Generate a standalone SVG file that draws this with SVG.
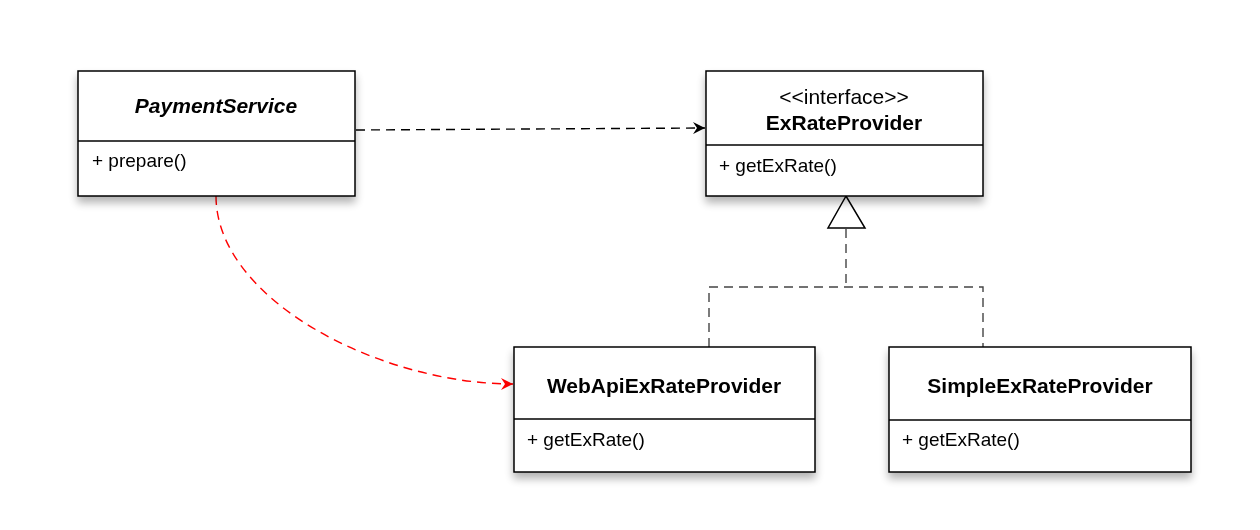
<svg xmlns="http://www.w3.org/2000/svg" width="1260" height="530" viewBox="0 0 1260 530">
<style>
.box{fill:#fff;stroke:#000;stroke-width:1.5}
.div{stroke:#000;stroke-width:1.5}
.t{font-family:"Liberation Sans",Arial,sans-serif;font-size:21px;font-weight:bold;fill:#000;text-anchor:middle}
.m{font-family:"Liberation Sans",Arial,sans-serif;font-size:19px;fill:#000}
.s{font-family:"Liberation Sans",Arial,sans-serif;font-size:21px;fill:#000;text-anchor:middle}
</style>
<defs>
<filter id="sh" x="-10%" y="-10%" width="120%" height="140%">
<feGaussianBlur in="SourceAlpha" stdDeviation="4"/>
<feOffset dx="0" dy="6"/>
<feComponentTransfer><feFuncA type="linear" slope="0.3"/></feComponentTransfer>
<feMerge><feMergeNode/><feMergeNode in="SourceGraphic"/></feMerge>
</filter>
<marker id="ab" markerWidth="14" markerHeight="12" refX="12" refY="6" orient="auto" markerUnits="userSpaceOnUse">
<path d="M0,0 L12,6 L0,12 L4,6 Z" fill="#000"/>
</marker>
<marker id="ar" markerWidth="14" markerHeight="12" refX="12" refY="6" orient="auto" markerUnits="userSpaceOnUse">
<path d="M0,0 L12,6 L0,12 L4,6 Z" fill="#f00"/>
</marker>
</defs>
<rect width="1260" height="530" fill="#fff"/>
<g id="connectors" fill="none">
<path d="M356,130 L705,128" stroke="#000" stroke-width="1.4" stroke-dasharray="9,6" marker-end="url(#ab)"/>
<path d="M216,196 C216,300 380,384 513,384" stroke="#f00" stroke-width="1.4" stroke-dasharray="9,6" marker-end="url(#ar)"/>
<path d="M846,229 L846,287 M709,347 L709,287 L983,287 L983,347" stroke="#444" stroke-width="1.4" stroke-dasharray="9,6"/>
<path d="M846,196 L828,228 L865,228 Z" fill="#fff" stroke="#000" stroke-width="1.5"/>
</g>
<g id="PaymentService" filter="url(#sh)">
<rect class="box" x="78" y="71" width="277" height="125"/>
<line class="div" x1="78" y1="141" x2="355" y2="141"/>
<text class="t" x="216" y="113" font-style="italic">PaymentService</text>
<text class="m" x="92" y="167">+ prepare()</text>
</g>
<g id="ExRateProvider" filter="url(#sh)">
<rect class="box" x="706" y="71" width="277" height="125"/>
<line class="div" x1="706" y1="145" x2="983" y2="145"/>
<text class="s" x="844" y="104">&lt;&lt;interface&gt;&gt;</text>
<text class="t" x="844" y="130">ExRateProvider</text>
<text class="m" x="719" y="172">+ getExRate()</text>
</g>
<g id="WebApiExRateProvider" filter="url(#sh)">
<rect class="box" x="514" y="347" width="301" height="125"/>
<line class="div" x1="514" y1="419" x2="815" y2="419"/>
<text class="t" x="664" y="393">WebApiExRateProvider</text>
<text class="m" x="527" y="446">+ getExRate()</text>
</g>
<g id="SimpleExRateProvider" filter="url(#sh)">
<rect class="box" x="889" y="347" width="302" height="125"/>
<line class="div" x1="889" y1="420" x2="1191" y2="420"/>
<text class="t" x="1040" y="393">SimpleExRateProvider</text>
<text class="m" x="902" y="446">+ getExRate()</text>
</g>
</svg>
